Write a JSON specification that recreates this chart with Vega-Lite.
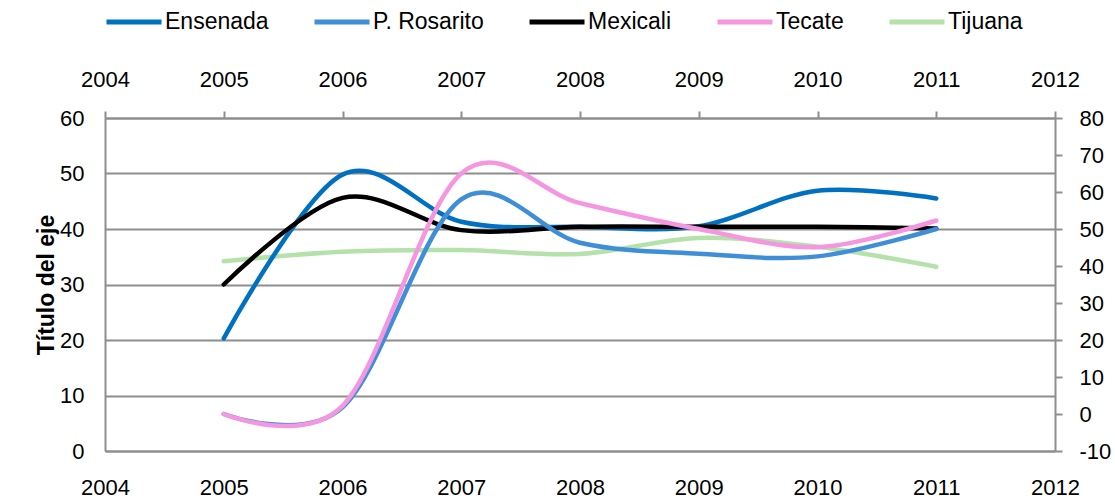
{
  "$schema": "https://vega.github.io/schema/vega-lite/v6.json",
  "width": 950,
  "height": 333,
  "autosize": {"type": "none"},
  "padding": {"left": 105, "top": 118, "right": 60, "bottom": 49},
  "background": "white",
  "config": {
    "view": {"stroke": null},
    "font": "Liberation Sans",
    "axis": {"labelColor": "black", "labelFont": "Liberation Sans", "titleFont": "Liberation Sans"}
  },
  "data": {
    "values": [
      {"city": "Tijuana", "year": 2005, "value": 34.2},
      {"city": "Tijuana", "year": 2006, "value": 35.9},
      {"city": "Tijuana", "year": 2007, "value": 36.2},
      {"city": "Tijuana", "year": 2008, "value": 35.5},
      {"city": "Tijuana", "year": 2009, "value": 38.4},
      {"city": "Tijuana", "year": 2010, "value": 36.8},
      {"city": "Tijuana", "year": 2011, "value": 33.2},
      {"city": "Ensenada", "year": 2005, "value": 20.3},
      {"city": "Ensenada", "year": 2006, "value": 49.8},
      {"city": "Ensenada", "year": 2007, "value": 41.3},
      {"city": "Ensenada", "year": 2008, "value": 40.4},
      {"city": "Ensenada", "year": 2009, "value": 40.5},
      {"city": "Ensenada", "year": 2010, "value": 46.9},
      {"city": "Ensenada", "year": 2011, "value": 45.5},
      {"city": "Mexicali", "year": 2005, "value": 30.0},
      {"city": "Mexicali", "year": 2006, "value": 45.6},
      {"city": "Mexicali", "year": 2007, "value": 39.8},
      {"city": "Mexicali", "year": 2008, "value": 40.4},
      {"city": "Mexicali", "year": 2009, "value": 40.4},
      {"city": "Mexicali", "year": 2010, "value": 40.4},
      {"city": "Mexicali", "year": 2011, "value": 40.1},
      {"city": "P. Rosarito", "year": 2005, "value": 0.0},
      {"city": "P. Rosarito", "year": 2006, "value": 1.8},
      {"city": "P. Rosarito", "year": 2007, "value": 58.0},
      {"city": "P. Rosarito", "year": 2008, "value": 46.3},
      {"city": "P. Rosarito", "year": 2009, "value": 43.3},
      {"city": "P. Rosarito", "year": 2010, "value": 42.6},
      {"city": "P. Rosarito", "year": 2011, "value": 50.0},
      {"city": "Tecate", "year": 2005, "value": 0.0},
      {"city": "Tecate", "year": 2006, "value": 2.2},
      {"city": "Tecate", "year": 2007, "value": 65.0},
      {"city": "Tecate", "year": 2008, "value": 57.0},
      {"city": "Tecate", "year": 2009, "value": 50.0},
      {"city": "Tecate", "year": 2010, "value": 45.1},
      {"city": "Tecate", "year": 2011, "value": 52.3}
    ]
  },
  "layer": [
    {
      "transform": [{"filter": {"field": "city", "oneOf": ["Tijuana", "Ensenada", "Mexicali"]}}],
      "mark": {"type": "line", "interpolate": "cardinal", "strokeWidth": 4.5, "strokeCap": "round", "strokeJoin": "round"},
      "encoding": {
        "x": {
          "field": "year", "type": "quantitative",
          "scale": {"domain": [2004, 2012], "nice": false, "zero": false},
          "axis": {
            "orient": "bottom", "title": null, "values": [2004, 2005, 2006, 2007, 2008, 2009, 2010, 2011, 2012],
            "format": "d", "ticks": false, "grid": false, "labelPadding": 26, "labelFontSize": 22,
            "labelFlush": false, "labelOverlap": false, "domainColor": "#8e8e8e", "domainWidth": 2
          }
        },
        "y": {
          "field": "value", "type": "quantitative",
          "scale": {"domain": [0, 60], "nice": false},
          "axis": {
            "orient": "left", "title": "Título del eje", "titleFontSize": 23, "titleFontWeight": "bold",
            "titleColor": "black", "titlePadding": 1, "values": [0, 10, 20, 30, 40, 50, 60],
            "grid": true, "gridColor": "#8e8e8e", "gridWidth": 2, "ticks": false,
            "domainColor": "#8e8e8e", "domainWidth": 2, "labelFontSize": 22, "labelPadding": 21
          }
        },
        "color": {
          "field": "city", "type": "nominal",
          "scale": {
            "domain": ["Ensenada", "P. Rosarito", "Mexicali", "Tecate", "Tijuana"],
            "range": ["#0070C0", "#3E8ED8", "#000000", "#F596E1", "#B5E1AA"]
          },
          "legend": {
            "title": null, "orient": "none", "legendX": -1, "legendY": -126, "direction": "horizontal",
            "columns": 5, "symbolType": "stroke", "symbolSize": 3025, "symbolStrokeWidth": 5,
            "labelFontSize": 23, "labelColor": "black", "labelOffset": 1, "columnPadding": 35, "padding": 0,
            "labelLimit": 300
          }
        }
      }
    },
    {
      "transform": [{"filter": {"field": "city", "oneOf": ["P. Rosarito", "Tecate"]}}],
      "mark": {"type": "line", "interpolate": "cardinal", "strokeWidth": 4.5, "strokeCap": "round", "strokeJoin": "round"},
      "encoding": {
        "x": {
          "field": "year", "type": "quantitative",
          "scale": {"domain": [2004, 2012], "nice": false, "zero": false},
          "axis": {
            "orient": "top", "title": null, "values": [2004, 2005, 2006, 2007, 2008, 2009, 2010, 2011, 2012],
            "format": "d", "ticks": true, "tickSize": 7, "tickColor": "#8e8e8e", "tickWidth": 2, "grid": false,
            "labelPadding": 20, "labelFontSize": 22, "labelFlush": false, "labelOverlap": false,
            "domainColor": "#8e8e8e", "domainWidth": 2
          }
        },
        "y": {
          "field": "value", "type": "quantitative",
          "scale": {"domain": [-10, 80], "nice": false, "zero": false},
          "axis": {
            "orient": "right", "title": null, "values": [-10, 0, 10, 20, 30, 40, 50, 60, 70, 80],
            "labelExpr": "datum.value < 0 ? '-' + abs(datum.value) : '' + datum.value",
            "grid": false, "ticks": true, "tickSize": 7, "tickColor": "#8e8e8e", "tickWidth": 2,
            "domainColor": "#8e8e8e", "domainWidth": 2, "labelFontSize": 22, "labelPadding": 17
          }
        },
        "color": {
          "field": "city", "type": "nominal",
          "scale": {
            "domain": ["Ensenada", "P. Rosarito", "Mexicali", "Tecate", "Tijuana"],
            "range": ["#0070C0", "#3E8ED8", "#000000", "#F596E1", "#B5E1AA"]
          }
        }
      }
    }
  ],
  "resolve": {"scale": {"y": "independent"}, "axis": {"x": "independent", "y": "independent"}}
}
